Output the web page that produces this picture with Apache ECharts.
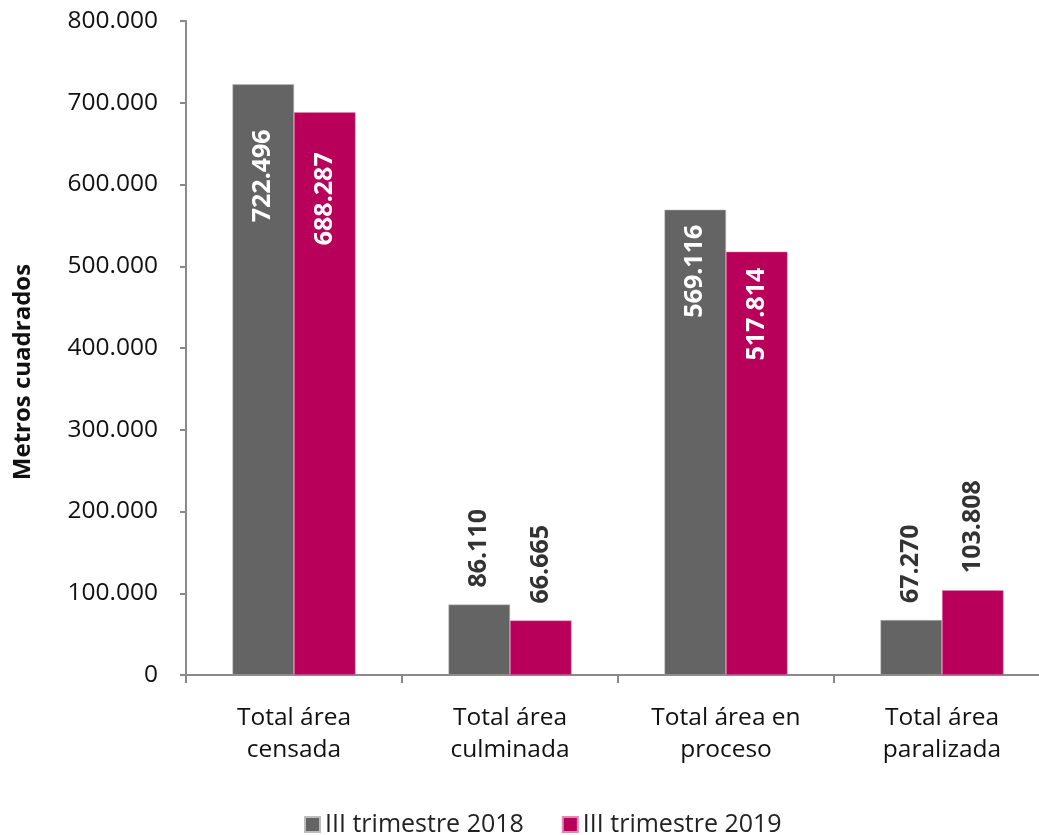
<!DOCTYPE html>
<html>
<head>
<meta charset="utf-8">
<script src="https://cdn.jsdelivr.net/npm/echarts@6/dist/echarts.min.js"></script>
<style>html,body{margin:0;padding:0;background:#fff}#c{width:1039px;height:835px}</style>
</head>
<body>
<div id="c"></div>
<script>
var categories = ['Total área\ncensada', 'Total área\nculminada', 'Total área en\nproceso', 'Total área\nparalizada'];
var seriesNames = ['III trimestre 2018', 'III trimestre 2019'];
var values2018 = [722496, 86110, 569116, 67270];
var values2019 = [688287, 66665, 517814, 103808];
var yTicks = [0, 100000, 200000, 300000, 400000, 500000, 600000, 700000, 800000];

var colors = ['#646464', '#B8005A'];
var FONT = '"Open Sans", "Noto Sans", sans-serif';

function fmt(v) {
  return String(Math.round(v)).replace(/\B(?=(\d{3})+(?!\d))/g, '.');
}

function buildData(vals, insideDist) {
  return vals.map(function (v, i) {
    var inside = v > 300000;
    return {
      value: v,
      label: inside ? {
        position: 'insideTop', rotate: 90, align: 'right', verticalAlign: 'middle',
        distance: insideDist[i], color: '#ffffff'
      } : {
        position: 'top', rotate: 90, align: 'left', verticalAlign: 'middle',
        distance: 17, color: '#333333'
      }
    };
  });
}

var chart = echarts.init(document.getElementById('c'), null, {renderer: 'canvas'});
chart.setOption({
  animation: false,
  color: colors,
  grid: {left: 186, top: 21, width: 864, bottom: 160, containLabel: false, outerBoundsMode: 'none'},
  legend: {
    top: 807, left: 299, itemWidth: 15, itemHeight: 15, itemGap: 38,
    icon: 'rect',
    textStyle: {fontFamily: FONT, fontSize: 25, color: '#222'},
    data: seriesNames
  },
  xAxis: {
    type: 'category', data: categories,
    axisLine: {lineStyle: {color: '#8a8a8a', width: 2}},
    axisTick: {show: true, length: 8, lineStyle: {color: '#8a8a8a', width: 2}},
    axisLabel: {fontFamily: FONT, fontSize: 24.5, color: '#111', margin: 27, lineHeight: 32}
  },
  yAxis: {
    type: 'value', min: 0, max: 800000, interval: 100000,
    name: 'Metros cuadrados', nameLocation: 'middle', nameGap: 151,
    nameTextStyle: {fontFamily: FONT, fontSize: 24, fontWeight: 'bold', color: '#111',
      padding: [0, 48, 0, 0]},
    axisLine: {show: true, lineStyle: {color: '#8a8a8a', width: 2}},
    axisTick: {show: true, length: 6, lineStyle: {color: '#8a8a8a', width: 2}},
    splitLine: {show: false},
    axisLabel: {fontFamily: FONT, fontSize: 24.5, color: '#111', margin: 28,
      formatter: function (v) { return fmt(v); }}
  },
  series: [
    {
      name: seriesNames[0], type: 'bar', barWidth: 61.5, barGap: '0%',
      itemStyle: {color: colors[0], borderColor: '#bdbdbd', borderWidth: 0.5},
      label: {show: true, fontFamily: FONT, fontSize: 25, fontWeight: 'bold',
        formatter: function (p) { return fmt(p.value); }},
      data: buildData(values2018, [45, 16, 15, 16])
    },
    {
      name: seriesNames[1], type: 'bar', barWidth: 61.5, barGap: '0%',
      itemStyle: {color: colors[1], borderColor: '#e08ab0', borderWidth: 0.5},
      label: {show: true, fontFamily: FONT, fontSize: 25, fontWeight: 'bold',
        formatter: function (p) { return fmt(p.value); }},
      data: buildData(values2019, [40, 16, 16, 16])
    }
  ]
});
</script>
</body>
</html>
